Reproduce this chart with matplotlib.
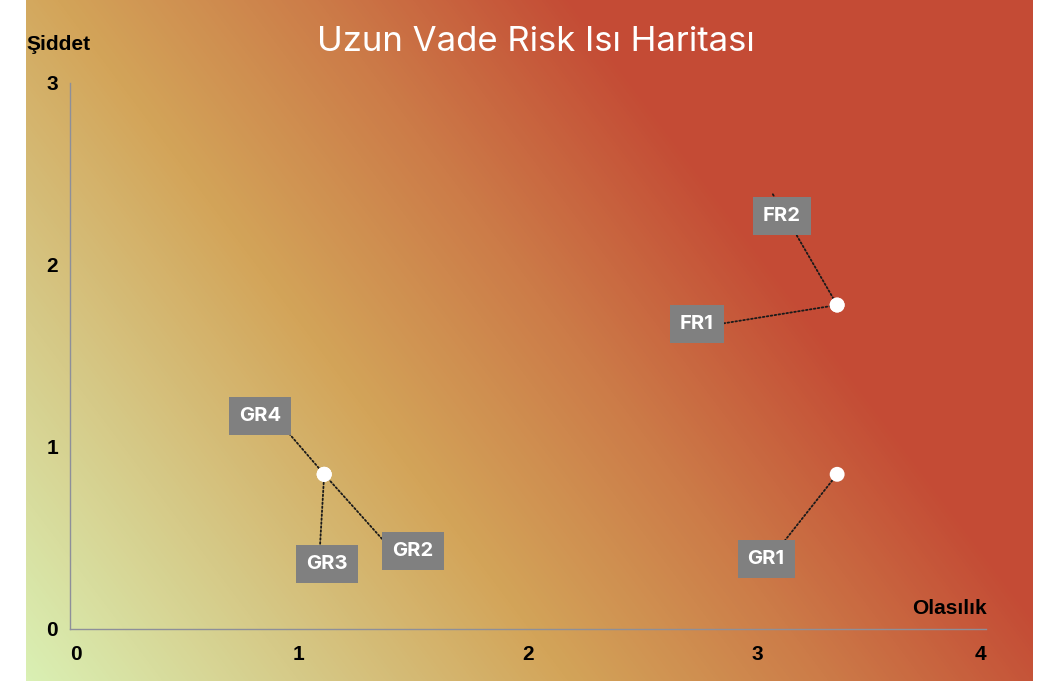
import numpy as np
import matplotlib
matplotlib.use("Agg")
import matplotlib.pyplot as plt
from matplotlib.colors import LinearSegmentedColormap

# ---- data ----
risk_names = ["GR1", "GR2", "GR3", "GR4", "FR1", "FR2"]
likelihood = [3.35, 1.11, 1.11, 1.11, 3.35, 3.35]
severity = [0.85, 0.85, 0.85, 0.85, 1.78, 1.78]
x_ticks = [0, 1, 2, 3, 4]
y_ticks = [0, 1, 2, 3]
title = "Uzun Vade Risk Isı Haritası"
x_name = "Olasılık"
y_name = "Şiddet"

# ---- layout (pixel offsets of label boxes and leader line ends, y up) ----
label_offsets = {
    "GR1": (-71, -84.5), "GR2": (89, -76.8), "GR3": (3, -89.8),
    "GR4": (-64, 58.2), "FR1": (-140.3, -18.7), "FR2": (-55.3, 89.3),
}
line_ends = {
    "GR1": (-60, -76), "GR2": (71, -79.3), "GR3": (-5, -85.3),
    "GR4": (-48, 55.7), "FR1": (-125.3, -20.2), "FR2": (-64.3, 110.8),
}

W, H = 1039, 681
fig = plt.figure(figsize=(W / 100, H / 100), dpi=100)
fig.patch.set_facecolor("white")

# background gradient
bx0, bx1 = 26, 1033
bg = fig.add_axes([bx0 / W, 0, (bx1 - bx0) / W, 1])
xs = np.arange(bx0, bx1) + 0.5
ys = np.arange(H) + 0.5
X, Y = np.meshgrid(xs, ys)
t = X + 0.75 * (H - Y)
stops = [26, 300, 570, 830, 1085]
cols = ["#daf0b4", "#d6ca88", "#d3a459", "#cc7b48", "#c44b35"]
tn = np.clip((t - stops[0]) / (stops[-1] - stops[0]), 0, 1)
cmap = LinearSegmentedColormap.from_list(
    "bg", [((s - stops[0]) / (stops[-1] - stops[0]), c) for s, c in zip(stops, cols)])
bg.imshow(cmap(tn), aspect="auto", interpolation="bilinear")
bg.set_axis_off()

# main axes
ax = fig.add_axes([70 / W, (H - 629) / H, 916 / W, 546 / H])
ax.patch.set_alpha(0)
ax.set_xlim(0, 4)
ax.set_ylim(0, 3)
for s in ["top", "right"]:
    ax.spines[s].set_visible(False)
for s in ["left", "bottom"]:
    ax.spines[s].set_color("#8d8f9a")
    ax.spines[s].set_linewidth(1)
ax.set_xticks(x_ticks)
ax.set_yticks(y_ticks)
ax.set_xticklabels([str(v) for v in x_ticks], fontsize=15, fontweight="bold",
                   family="Liberation Sans")
ax.set_yticklabels([str(v) for v in y_ticks], fontsize=15, fontweight="bold",
                   family="Liberation Sans")
ax.tick_params(axis="x", length=0, pad=11.5)
ax.tick_params(axis="y", length=0, pad=8.5)
xl = ax.get_xticklabels()
xl[0].set_ha("left")
xl[-1].set_ha("right")

# points
ax.scatter(likelihood, severity, s=115, color="white", zorder=5, edgecolors="none",
           clip_on=False)

# leader lines and labels
for name, lx, ly in zip(risk_names, likelihood, severity):
    ex, ey = line_ends[name]
    ax.annotate("", xy=(lx, ly), xytext=(ex, ey), textcoords="offset pixels",
                arrowprops=dict(arrowstyle="-", linestyle=(0, (0.9, 1.3)), lw=1.3,
                                color="#1a1a1a", shrinkA=0, shrinkB=0),
                zorder=3)
    ox, oy = label_offsets[name]
    ax.annotate(name, xy=(lx, ly), xytext=(ox, oy), textcoords="offset pixels",
                ha="center", va="center", fontsize=14.5, fontweight="bold",
                family="Inter", color="white", zorder=6,
                bbox=dict(boxstyle="square,pad=0.5", fc="#808080", ec="none"))

# texts
fig.text(536 / W, 1 - 42 / H, title, ha="center", va="center", color="white",
         fontsize=25, family="Inter")
fig.text(26 / W, 1 - 45 / H, y_name, ha="left", va="center", fontsize=15,
         fontweight="bold", family="Liberation Sans")
fig.text(987 / W, 1 - 609 / H, x_name, ha="right", va="center", fontsize=15,
         fontweight="bold", family="Liberation Sans")

fig.savefig("out.png", dpi=100)
